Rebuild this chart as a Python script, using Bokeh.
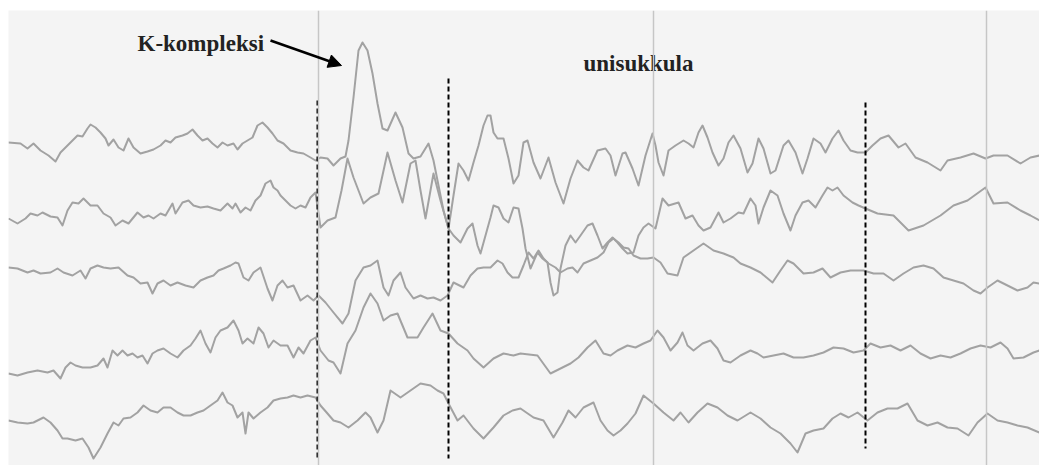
from bokeh.plotting import figure
from bokeh.models import Range1d, Span, Arrow, NormalHead
from bokeh.core.properties import value
from bokeh.embed import file_html
from bokeh.resources import INLINE

# ---- data (time position, deflection) ----
ch1_t = [8, 20, 27, 33, 40, 48, 55, 60, 67, 72, 77, 82, 87, 90, 95, 100, 105, 108, 113, 118, 123, 128, 133, 140,
         147, 153, 160, 165, 170, 175, 182, 187, 192, 197, 202, 207, 212, 217, 222, 227, 233, 237, 242, 247, 252,
         257, 262, 267, 272, 277, 283, 290, 297, 303, 310, 315, 320, 327, 333, 340, 345, 348, 353, 358, 362, 367,
         372, 377, 382, 387, 395, 402, 408, 413, 420, 428, 433, 438, 443, 448, 453, 458, 463, 468, 473, 478, 483,
         487, 490, 493, 497, 503, 508, 513, 518, 523, 527, 533, 540, 548, 555, 563, 570, 577, 583, 588, 597, 605,
         610, 615, 622, 625, 632, 638, 645, 652, 655, 658, 663, 668, 675, 683, 688, 693, 698, 702, 707, 712, 718,
         723, 728, 733, 740, 747, 752, 758, 763, 770, 775, 783, 788, 795, 802, 807, 813, 820, 825, 832, 838, 843,
         850, 857, 865, 872, 880, 888, 898, 905, 915, 927, 940, 947, 960, 973, 985, 993, 1007, 1020, 1030, 1039]
ch1_v = [142, 143, 148, 143, 150, 155, 161, 152, 145, 140, 135, 136, 128, 124, 127, 132, 138, 145, 139, 147, 150, 138,
         147, 153, 151, 149, 145, 140, 142, 137, 135, 133, 129, 135, 140, 138, 143, 147, 142, 145, 143, 149, 143, 140,
         137, 125, 122, 127, 133, 140, 143, 150, 152, 153, 157, 160, 157, 158, 165, 158, 156, 140, 97, 50, 42, 50,
         73, 103, 128, 130, 112, 127, 153, 158, 156, 143, 160, 185, 210, 228, 195, 163, 170, 180, 162, 145, 125,
         115, 115, 132, 138, 138, 158, 183, 175, 142, 140, 162, 178, 157, 182, 203, 178, 160, 167, 170, 150, 148,
         155, 175, 153, 152, 168, 185, 155, 133, 145, 162, 175, 150, 145, 140, 143, 147, 132, 125, 137, 152, 165,
         158, 142, 135, 148, 172, 163, 138, 148, 173, 170, 145, 140, 152, 173, 158, 138, 143, 152, 138, 130, 140,
         150, 152, 152, 145, 138, 135, 147, 143, 157, 162, 170, 160, 157, 153, 158, 155, 155, 163, 157, 155]

ch2_t = [8, 17, 25, 30, 37, 42, 50, 57, 62, 67, 72, 78, 83, 90, 97, 103, 110, 115, 122, 128, 137, 143, 148, 153, 160,
         165, 172, 175, 182, 188, 193, 200, 207, 213, 220, 227, 232, 235, 240, 245, 250, 255, 260, 265, 270, 273,
         277, 280, 285, 290, 295, 300, 305, 310, 315, 320, 327, 335, 341, 347, 353, 358, 363, 370, 378, 387, 395,
         402, 410, 415, 420, 425, 433, 440, 448, 453, 460, 467, 472, 477, 480, 485, 490, 493, 498, 503, 508, 513,
         518, 522, 525, 530, 537, 542, 547, 550, 553, 557, 560, 565, 570, 575, 580, 587, 592, 597, 602, 607, 612,
         617, 622, 627, 633, 638, 643, 648, 655, 662, 668, 678, 685, 692, 698, 703, 710, 718, 723, 730, 738, 743,
         750, 755, 758, 763, 770, 777, 783, 790, 795, 802, 808, 815, 822, 827, 832, 837, 843, 852, 858, 865, 877,
         893, 908, 923, 940, 953, 967, 985, 993, 1007, 1020, 1030, 1039]
ch2_v = [218, 223, 218, 213, 215, 212, 216, 217, 225, 210, 202, 203, 198, 205, 205, 213, 217, 225, 220, 223, 212, 217,
         215, 218, 213, 215, 203, 213, 202, 200, 205, 207, 206, 208, 210, 203, 208, 203, 212, 207, 210, 200, 195,
         183, 180, 187, 190, 195, 200, 205, 208, 205, 207, 197, 192, 227, 220, 217, 190, 158, 177, 190, 203, 197,
         193, 152, 180, 202, 163, 160, 190, 218, 173, 200, 228, 235, 242, 228, 223, 245, 253, 235, 217, 205, 207,
         218, 222, 207, 208, 228, 248, 268, 252, 258, 262, 282, 295, 292, 268, 245, 235, 242, 235, 225, 223, 235,
         248, 242, 237, 242, 248, 253, 252, 235, 227, 223, 228, 198, 205, 202, 218, 215, 225, 230, 227, 212, 222,
         218, 212, 213, 198, 205, 223, 207, 190, 195, 213, 230, 215, 202, 200, 207, 195, 187, 190, 187, 195, 202,
         205, 208, 213, 215, 230, 225, 215, 205, 200, 187, 203, 202, 210, 215, 220]

ch3_t = [8, 17, 27, 33, 40, 50, 57, 63, 72, 80, 85, 90, 97, 103, 110, 118, 127, 133, 140, 147, 152, 157, 163, 170, 177,
         185, 193, 200, 207, 213, 218, 223, 230, 235, 238, 243, 248, 253, 260, 267, 272, 277, 282, 287, 293, 300,
         307, 313, 318, 325, 333, 342, 348, 355, 363, 370, 377, 383, 388, 393, 400, 405, 413, 420, 427, 433, 440,
         447, 453, 463, 470, 477, 483, 490, 497, 502, 507, 512, 518, 523, 528, 533, 538, 543, 548, 555, 560, 567,
         572, 577, 583, 590, 597, 603, 608, 613, 618, 623, 628, 633, 640, 647, 653, 660, 667, 677, 683, 693, 703,
         713, 723, 733, 740, 750, 760, 772, 780, 787, 793, 803, 813, 822, 830, 840, 850, 863, 873, 883, 893, 903,
         913, 923, 933, 943, 953, 963, 973, 980, 987, 997, 1007, 1017, 1027, 1033, 1039]
ch3_v = [267, 268, 272, 270, 273, 272, 268, 272, 275, 270, 278, 268, 265, 267, 268, 267, 275, 277, 283, 282, 293, 283,
         280, 285, 282, 285, 287, 280, 277, 275, 270, 268, 265, 262, 263, 277, 280, 272, 267, 288, 300, 285, 280,
         287, 285, 300, 295, 300, 295, 302, 312, 323, 313, 280, 267, 265, 260, 287, 295, 280, 272, 287, 298, 295,
         298, 297, 300, 295, 282, 287, 275, 268, 267, 267, 260, 263, 272, 277, 277, 265, 252, 258, 250, 258, 263,
         267, 272, 268, 267, 272, 263, 260, 257, 252, 242, 238, 242, 247, 248, 255, 258, 258, 257, 262, 273, 275,
         257, 250, 243, 250, 253, 257, 263, 267, 272, 282, 270, 260, 263, 273, 272, 268, 277, 272, 270, 270, 273,
         273, 280, 273, 267, 265, 268, 277, 280, 283, 290, 293, 287, 280, 285, 290, 287, 282, 283]

ch4_t = [8, 17, 27, 37, 47, 53, 60, 65, 70, 75, 82, 90, 97, 103, 107, 112, 117, 122, 127, 132, 137, 142, 147, 152, 157,
         163, 170, 177, 183, 190, 195, 200, 205, 210, 215, 220, 227, 233, 238, 242, 247, 253, 258, 263, 268, 273,
         280, 287, 293, 298, 303, 310, 315, 320, 328, 333, 340, 347, 355, 363, 370, 377, 383, 390, 397, 407, 417,
         423, 432, 440, 448, 457, 467, 473, 483, 493, 503, 513, 520, 537, 550, 560, 570, 578, 587, 595, 603, 610,
         617, 627, 635, 643, 650, 657, 663, 670, 677, 682, 687, 693, 702, 710, 717, 723, 730, 740, 750, 757, 763,
         773, 783, 793, 803, 813, 823, 833, 843, 853, 863, 870, 880, 890, 900, 910, 920, 930, 940, 950, 960, 970,
         980, 990, 1000, 1007, 1013, 1023, 1033, 1039]
ch4_v = [373, 375, 372, 370, 372, 370, 378, 367, 362, 365, 367, 367, 365, 358, 367, 350, 355, 350, 355, 353, 357, 355,
         363, 353, 350, 348, 353, 357, 350, 345, 338, 330, 343, 352, 337, 330, 327, 320, 330, 343, 338, 343, 327,
         333, 347, 340, 345, 345, 357, 347, 353, 340, 337, 350, 360, 362, 373, 343, 330, 307, 293, 303, 320, 315,
         313, 337, 337, 327, 313, 330, 333, 343, 350, 358, 367, 358, 353, 355, 353, 355, 373, 368, 363, 357, 347,
         340, 353, 355, 350, 345, 347, 343, 340, 330, 337, 350, 342, 332, 345, 350, 343, 340, 348, 360, 362, 355,
         350, 353, 357, 355, 353, 357, 357, 355, 352, 347, 348, 352, 350, 343, 347, 345, 350, 345, 353, 358, 355,
         357, 353, 348, 345, 347, 342, 348, 358, 357, 352, 350]

ch5_t = [8, 17, 27, 33, 43, 50, 57, 62, 67, 75, 82, 88, 93, 100, 107, 113, 118, 123, 130, 137, 143, 150, 157, 163, 170,
         177, 183, 190, 197, 203, 210, 217, 222, 227, 232, 237, 242, 245, 248, 253, 260, 267, 273, 280, 287, 293,
         300, 307, 315, 320, 327, 333, 340, 348, 357, 365, 370, 377, 383, 390, 400, 410, 420, 430, 437, 443, 448,
         457, 463, 473, 483, 493, 503, 512, 520, 533, 543, 553, 562, 568, 575, 583, 593, 600, 607, 613, 620, 627,
         635, 643, 653, 663, 673, 680, 688, 697, 707, 717, 727, 737, 750, 760, 770, 780, 790, 797, 805, 813, 823,
         832, 840, 848, 857, 867, 877, 887, 897, 907, 917, 927, 937, 947, 957, 968, 977, 987, 997, 1007, 1017,
         1027, 1039]
ch5_v = [420, 422, 423, 422, 417, 422, 430, 438, 438, 440, 438, 447, 458, 447, 433, 422, 425, 418, 417, 412, 405, 410,
         412, 407, 407, 412, 415, 415, 412, 410, 405, 400, 392, 402, 405, 417, 412, 433, 412, 418, 412, 407, 400,
         398, 397, 395, 397, 395, 397, 405, 413, 420, 422, 427, 420, 412, 417, 432, 420, 390, 397, 390, 383, 385,
         390, 393, 403, 420, 415, 428, 438, 427, 415, 410, 408, 417, 420, 437, 422, 410, 417, 407, 402, 420, 430,
         435, 430, 423, 413, 395, 403, 412, 420, 412, 422, 412, 403, 407, 415, 420, 412, 418, 427, 433, 443, 452,
         433, 430, 428, 418, 413, 417, 412, 420, 412, 408, 408, 403, 420, 425, 422, 427, 428, 435, 422, 413, 420,
         422, 425, 427, 432]

channels = [(ch1_t, ch1_v), (ch2_t, ch2_v), (ch3_t, ch3_v), (ch4_t, ch4_v), (ch5_t, ch5_v)]

second_marks = [318, 653, 986]          # faint vertical time grid
event_t = [317, 448, 865]               # dashed event markers
event_top = [100, 78, 102]
event_bottom = [458, 458, 448]

labels = ["K-kompleksi", "unisukkula"]
label_t = [137, 583]
label_v = [43, 63]

# ---- figure ----
p = figure(width=1039, height=465, output_backend="svg", toolbar_location=None,
           x_range=Range1d(8, 1039), y_range=Range1d(465, 10),
           x_axis_location=None, y_axis_location=None,
           min_border_left=8, min_border_right=0, min_border_bottom=0, min_border_top=10)
p.grid.visible = False
p.outline_line_color = None
p.background_fill_color = "#f4f4f4"
p.border_fill_color = "white"

for t in second_marks:
    p.add_layout(Span(location=t, dimension="height", line_color="#c6c6c6", line_width=1.5))

for t, v in channels:
    p.line(t, v, line_color="#a2a2a2", line_width=2, line_join="round")

p.segment(x0=event_t, y0=event_top, x1=event_t, y1=event_bottom,
          line_color="black", line_width=2, line_dash="5 3")

p.text(x=label_t, y=label_v, text=labels, text_font=value("Liberation Serif"),
       text_font_size="23px", text_font_style="bold", text_color="#222222",
       text_baseline="alphabetic", text_align="left")

p.add_layout(Arrow(end=NormalHead(size=13, fill_color="black", line_color="black"),
                   x_start=270, y_start=40, x_end=341, y_end=65,
                   line_color="black", line_width=2.5))

open("out.html", "w").write(file_html(p, INLINE))
